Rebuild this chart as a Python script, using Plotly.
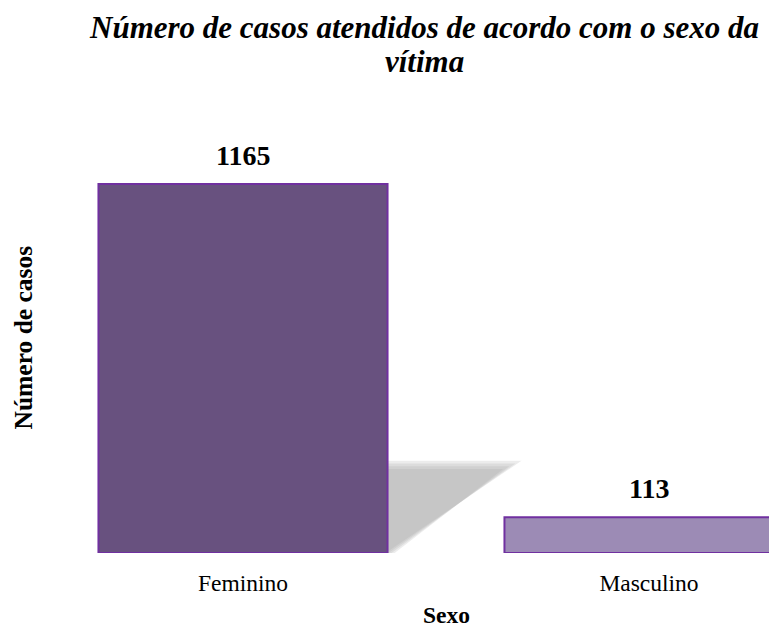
import plotly.graph_objects as go

categories = ["Feminino", "Masculino"]
values = [1165, 113]
colors = ["#68517f", "#9c8bb5"]

title_lines = ["Número de casos atendidos de acordo com o sexo da", "vítima"]
x_title = "Sexo"
y_title = "Número de casos"

FONT = "Liberation Serif, Times New Roman, serif"
bar_w = 0.712
xpos = list(range(len(categories)))
px_per_cat = 406

# page body has an 8px margin, so the figure is drawn 8px in from the corner
OFF = 8
W, H = 777 - 2 * OFF, 630 - OFF
ML, MT = 40 - OFF, 122 - OFF
plot_bottom_screen = 553
MB = H - (plot_bottom_screen - OFF)
plot_w = W - ML
plot_h = H - MT - MB
x_max = -0.5 + plot_w / px_per_cat


def py(screen_y):
    """paper y for a screen pixel row"""
    return (plot_bottom_screen - screen_y) / plot_h


def px(screen_x):
    return (screen_x - (ML + OFF)) / plot_w


fig = go.Figure()

# soft shadow behind the first bar (decorative), derived from bar geometry
sx0 = xpos[0] + bar_w / 2
sh_top = values[0] * 0.235
sh_len = 0.30
for k in [0.03, 0.015, 0.0, -0.015]:
    dy = k * values[0] * 0.5
    path = (f"M {sx0},{0} L {sx0},{sh_top + dy} L {sx0 + sh_len + k},{sh_top + dy} "
            f"L {sx0 + 0.01 - k * 0.5},{0} Z")
    fig.add_shape(type="path", path=path, xref="x", yref="y",
                  fillcolor="rgba(160,160,160,0.2)", line=dict(width=0), layer="below")

fig.add_trace(go.Bar(
    x=xpos, y=values, width=bar_w,
    marker=dict(color=colors, line=dict(color="#7030A0", width=2)),
    showlegend=False, hoverinfo="x+y",
))

for xi, v in zip(xpos, values):
    fig.add_annotation(x=xi, y=v, text=f"<b>{v}</b>", showarrow=False,
                       yanchor="bottom", yshift=11,
                       font=dict(family=FONT, size=28, color="black"))

# title, two lines
for line, yc in zip(title_lines, [28, 61]):
    fig.add_annotation(x=px(424), y=py(yc), xref="paper", yref="paper",
                       text=f"<b><i>{line}</i></b>", showarrow=False,
                       xanchor="center", yanchor="middle",
                       font=dict(family=FONT, size=31, color="black"))

fig.add_annotation(x=px(446.5), y=py(615), xref="paper", yref="paper",
                   text=f"<b>{x_title}</b>", showarrow=False, yanchor="middle",
                   font=dict(family=FONT, size=23.5, color="black"))
fig.add_annotation(x=px(23), y=0.5, xref="paper", yref="paper",
                   text=f"<b>{y_title}</b>", showarrow=False, textangle=-90,
                   xanchor="center", yanchor="middle",
                   font=dict(family=FONT, size=25.5, color="black"))

fig.update_layout(
    width=W, height=H,
    margin=dict(l=ML, r=0, t=MT, b=MB),
    paper_bgcolor="white", plot_bgcolor="white",
    xaxis=dict(range=[-0.5, x_max], tickmode="array", tickvals=xpos, ticktext=categories,
               showgrid=False, zeroline=False, showline=False,
               ticks="outside", ticklen=9, tickcolor="rgba(0,0,0,0)",
               tickfont=dict(family=FONT, size=23.5, color="black")),
    yaxis=dict(range=[0, 1361], showticklabels=False, showgrid=False,
               zeroline=False, showline=False),
)

fig.write_html("out.html")
